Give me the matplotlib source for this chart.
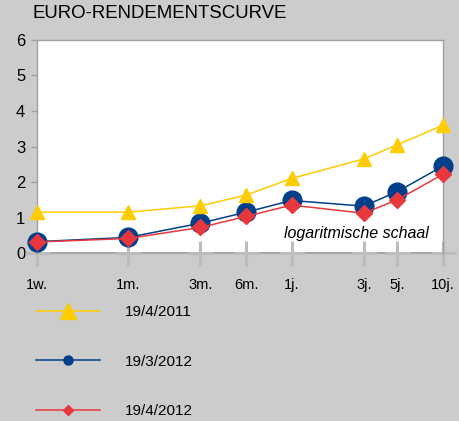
import matplotlib.pyplot as plt
from matplotlib.lines import Line2D

plt.rcParams['font.family'] = ['Liberation Sans', 'DejaVu Sans']

# looptijden in maanden (log-schaal), 1 week = 0.25 maand
maturities = [0.25, 1, 3, 6, 12, 36, 60, 120]
tick_labels = ["1w.", "1m.", "3m.", "6m.", "1j.", "3j.", "5j.", "10j."]

labels = ["19/4/2011", "19/3/2012", "19/4/2012"]
yield_2011_04 = [1.15, 1.15, 1.33, 1.63, 2.10, 2.65, 3.05, 3.60]
yield_2012_03 = [0.32, 0.44, 0.84, 1.15, 1.48, 1.32, 1.73, 2.45]
yield_2012_04 = [0.31, 0.41, 0.72, 1.03, 1.35, 1.12, 1.50, 2.22]

BG = "#cccccc"
YELLOW = "#ffcc00"
BLUE = "#003f8a"
RED = "#e8383d"
AXIS_GRAY = "#a0a0a0"
CROSS_GRAY = "#bcbcbc"

fig = plt.figure(figsize=(4.6, 4.21), dpi=100, facecolor=BG)
ax = fig.add_axes([0.0804, 0.399, 0.8826, 0.506])
ax.set_facecolor("white")

# kruisjes op de x-as
ax.plot(maturities, [0] * len(maturities), ls="none", marker="+", ms=18,
        mew=2.2, color=CROSS_GRAY, clip_on=False, zorder=2)

ax.plot(maturities, yield_2011_04, color=YELLOW, lw=1.1, marker="^", ms=10.5,
        mec=YELLOW, clip_on=False, zorder=4)
ax.plot(maturities, yield_2012_03, color=BLUE, lw=1.1, marker="o", ms=13.5,
        mec=BLUE, clip_on=False, zorder=3)
ax.plot(maturities, yield_2012_04, color=RED, lw=1.1, marker="D", ms=8.6,
        mec=RED, clip_on=False, zorder=5)

ax.set_xscale("log")
ax.set_xlim(maturities[0], maturities[-1])
ax.set_ylim(0, 6)
ax.set_xticks(maturities)
ax.set_xticklabels(tick_labels)
ax.minorticks_off()
ax.set_yticks(range(0, 7))

for side in ["top", "right", "left"]:
    ax.spines[side].set_color(AXIS_GRAY)
    ax.spines[side].set_linewidth(1.0)
ax.spines["bottom"].set_visible(False)
# basislijn, iets breder dan het plotvlak
ax.plot([-0.025, 1.025], [0, 0], transform=ax.transAxes, color=AXIS_GRAY,
        lw=1.3, clip_on=False, zorder=1)

ax.tick_params(axis="x", length=0, labelsize=10.5, pad=18)
ax.tick_params(axis="y", direction="out", length=4.5, width=1,
               color=AXIS_GRAY, labelsize=12, pad=4)

ax.text(0.966, 0.09, "logaritmische schaal", transform=ax.transAxes,
        ha="right", va="center", fontsize=11.5, style="italic")

fig.text(0.070, 0.968, "EURO-RENDEMENTSCURVE", fontsize=13.4,
         ha="left", va="center")

handles = [
    Line2D([], [], color=YELLOW, lw=1.1, marker="^", ms=12),
    Line2D([], [], color=BLUE, lw=1.1, marker="o", ms=6.5),
    Line2D([], [], color=RED, lw=1.1, marker="D", ms=5),
]
fig.legend(handles, labels, loc="upper left", bbox_to_anchor=(0.049, 0.308),
           frameon=False, fontsize=11, handlelength=4.2, handletextpad=1.63,
           labelspacing=2.32)

fig.savefig("out.png", dpi=100, facecolor=BG)
